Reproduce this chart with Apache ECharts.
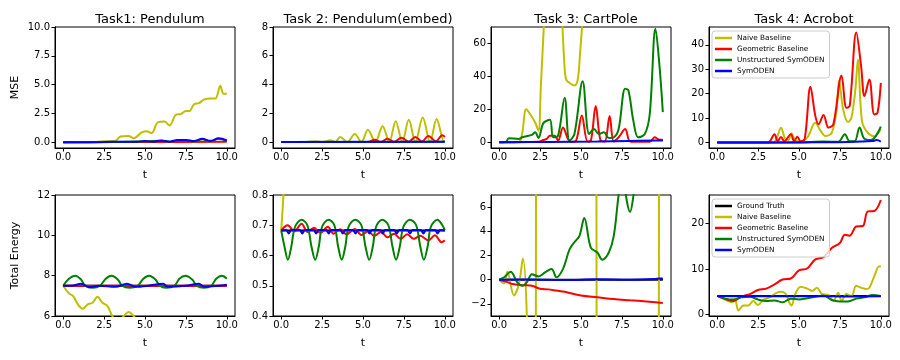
<!DOCTYPE html>
<html>
<head>
<meta charset="utf-8">
<script src="https://cdn.jsdelivr.net/npm/echarts@6/dist/echarts.min.js"></script>
<style>
  html, body { margin: 0; padding: 0; background: #fff; }
  #chartmain { width: 900px; height: 360px; }
</style>
</head>
<body>
<div id="chartmain"></div>
<script>
// ---- data ([t, value] pairs) ----
var titles = ['Task1: Pendulum', 'Task 2: Pendulum(embed)', 'Task 3: CartPole', 'Task 4: Acrobot'];
var rowNames = ['MSE', 'Total Energy'];
var xTicks = [0, 2.5, 5, 7.5, 10];
var yTicks = [
  [0, 2.5, 5, 7.5, 10], [0, 2, 4, 6, 8], [0, 20, 40, 60], [0, 10, 20, 30, 40],
  [6, 8, 10, 12], [0.4, 0.5, 0.6, 0.7, 0.8], [-2, 0, 2, 4, 6], [0, 10, 20]
];
var yRange = [
  [-0.5, 10], [-0.42, 8], [-3.5, 70], [-2.25, 47.3],
  [6, 12], [0.4, 0.8], [-3, 7], [-0.3, 26.2]
];

// Task1 MSE
var p1Naive = [[0,0],[1,0.02],[2,0.03],[2.5,0.08],[3.2,0.12],[3.5,0.5],[4.0,0.55],[4.3,0.35],[4.8,0.85],[5.1,0.95],[5.4,0.8],[5.8,1.75],[6.2,1.8],[6.5,1.45],[6.9,2.4],[7.2,2.45],[7.5,2.7],[7.7,2.7],[8.0,3.3],[8.3,3.4],[8.6,3.7],[9.0,3.8],[9.3,3.8],[9.6,4.9],[9.8,4.2],[10,4.2]];
var p1Geo = [[0,0],[5,0.02],[10,0.05]];
var p1Unstr = [[0,0],[3,0.02],[5,0.08],[6,0.12],[6.5,0.04],[7,0.15],[7.5,0.15],[8,0.06],[8.5,0.25],[9,0.06],[9.5,0.3],[10,0.12]];
var p1Sym = [[0,0],[2.5,0.02],[3.5,0.05],[4.5,0.05],[5,0.1],[5.5,0.05],[6,0.15],[6.5,0.05],[7,0.2],[7.5,0.2],[8,0.1],[8.5,0.3],[9,0.12],[9.5,0.35],[10,0.15]];

// Task2 MSE
var p2Naive = [[0,0],[1.5,0],[2.1,0.05],[2.5,0],[3.0,0.12],[3.3,0],[3.6,0.35],[4.05,0],[4.5,0.55],[4.9,0],[5.3,0.85],[5.75,0],[6.2,1.1],[6.6,0],[7.0,1.45],[7.4,0],[7.8,1.55],[8.2,0],[8.65,1.7],[9.1,0],[9.5,1.6],[9.95,0.05],[10,0.1]];
var p2Geo = [[0,0],[5.3,0],[5.7,0.16],[6.1,0],[6.5,0.23],[6.9,0.01],[7.35,0.3],[7.8,0.02],[8.2,0.35],[8.6,0.03],[9.0,0.42],[9.45,0.05],[9.85,0.47],[10,0.35]];
var p2Unstr = [[0,0],[10,0.01]];
var p2Sym = [[0,0],[10,0.02]];

// Task3 MSE
var p3Naive = [[0,0],[1.2,0.2],[1.4,5],[1.65,20],[1.9,17],[2.2,12],[2.4,7],[2.55,35],[2.75,75],[3.0,130],[3.5,150],[3.75,110],[3.85,75],[4.0,45],[4.1,38],[4.3,36],[4.6,34.5],[4.8,38],[4.95,55],[5.1,75],[5.5,130],[6,180],[8,200],[10,220]];
var p3Geo = [[0,0],[2.4,0.3],[2.6,1],[2.9,2],[3.1,4],[3.4,4],[3.6,1],[3.9,9],[4.2,2],[4.4,0.2],[4.7,1],[5.05,16.3],[5.4,0.5],[5.6,1],[5.9,22],[6.2,1],[6.45,0.5],[6.75,16],[7.0,0.5],[7.3,3],[7.7,8],[8.0,0.5],[8.5,0.3],[9.2,0.3],[9.5,3],[9.8,1.5],[10,1.5]];
var p3Unstr = [[0,0],[0.4,0.2],[0.6,2.4],[1.2,2],[1.4,3],[1.6,3.5],[2.0,4.5],[2.2,6],[2.4,2.6],[2.7,11.6],[3.1,13.6],[3.3,3],[3.6,4],[4.0,27],[4.3,1],[4.6,5],[5.1,37],[5.5,5],[5.8,8],[6.1,5],[6.4,6],[6.7,2.6],[7.0,3],[7.3,8],[7.7,32.5],[7.9,31.5],[8.2,13],[8.5,3],[8.9,5],[9.2,17],[9.55,69],[9.8,46],[10,18.3]];
var p3Sym = [[0,0],[3,0.2],[6,0.5],[8,0.8],[9.5,1],[10,1]];

// Task4 MSE
var p4Naive = [[0,0],[3.4,0],[3.65,2],[3.9,6],[4.15,1.5],[4.35,1],[4.55,3.8],[4.75,1],[5.0,0.5],[5.5,2],[6.0,8.1],[6.3,5],[6.6,2.7],[7.0,4],[7.3,13.6],[7.45,25.4],[7.7,13.5],[8.0,8.4],[8.2,10],[8.45,22],[8.6,33.9],[8.85,8.8],[9.2,4],[9.6,2.5],[10,5.5]];
var p4Geo = [[0,0],[3.1,0],[3.5,3.4],[3.7,0.5],[3.9,2.3],[4.1,0.5],[4.5,3.4],[4.7,0.5],[4.9,2.4],[5.1,0.5],[5.35,1.5],[5.7,22.8],[6.0,10.8],[6.2,7.5],[6.5,11.3],[6.8,6.1],[7.1,7.5],[7.6,27.4],[7.9,14.2],[8.1,15],[8.5,45],[8.8,31],[9.0,19],[9.3,25.8],[9.6,11.5],[9.8,12.2],[10,24.4]];
var p4Unstr = [[0,0],[5,0],[6.5,0.4],[7.4,0.3],[7.8,3.4],[8.1,0.5],[8.4,0.5],[8.7,6.1],[9.0,1.5],[9.4,1],[10,6.5]];
var p4Sym = [[0,0],[6,0.1],[8,0.2],[9.5,0.6],[9.75,1],[10,0.4]];

// Task1 energy
var p5Truth = [[0,7.5],[10,7.5]];
var p5Naive = [[0,7.5],[0.35,7.12],[0.6,7.0],[0.9,6.58],[1.2,6.36],[1.5,6.58],[1.8,6.66],[2.1,6.95],[2.4,6.66],[2.7,6.5],[3.0,6.0],[3.3,5.7],[3.7,6.0],[4.0,6.2],[4.3,6.0],[4.8,5.5],[6,5.0],[8,4.8],[10,4.5]];
var p5Geo = [[0,7.5],[10,7.5]];
var p5Unstr = [[0,7.5],[0.35,7.85],[0.73,8.0],[1.1,7.8],[1.35,7.5],[1.8,7.4],[2.25,7.5],[2.6,7.85],[2.96,8.0],[3.35,7.8],[3.6,7.5],[4.05,7.4],[4.55,7.5],[4.9,7.85],[5.25,8.0],[5.65,7.8],[5.9,7.5],[6.3,7.4],[6.8,7.5],[7.1,7.85],[7.47,8.0],[7.9,7.8],[8.15,7.5],[8.6,7.4],[9.05,7.5],[9.35,7.85],[9.7,8.0],[10,7.85]];
var p5Sym = [[0,7.5],[0.5,7.5],[1.1,7.6],[1.6,7.42],[2.2,7.5],[3.2,7.45],[3.9,7.6],[4.4,7.45],[5.2,7.5],[6.1,7.6],[6.4,7.45],[7.5,7.5],[8.3,7.6],[8.6,7.45],[9.5,7.5],[10,7.55]];

// Task2 energy
var p6Truth = [[0,0.683],[10,0.683]];
var p6Naive = [[0,0.683],[0.14,0.8],[0.3,1.0],[1,1.5],[10,3]];
var p6Geo = [[0,0.683],[0.4,0.7],[0.8,0.68],[1.25,0.705],[1.6,0.678],[2.0,0.692],[2.4,0.675],[2.85,0.695],[3.2,0.672],[3.6,0.687],[4.0,0.67],[4.5,0.688],[4.9,0.668],[5.3,0.68],[5.7,0.665],[6.1,0.678],[6.5,0.66],[6.9,0.672],[7.3,0.655],[7.7,0.67],[8.1,0.655],[8.5,0.665],[9.0,0.65],[9.4,0.667],[9.8,0.644],[10,0.65]];
var p6Unstr = [[0,0.683],[0.2,0.63],[0.41,0.586],[0.62,0.63],[0.85,0.695],[1.25,0.718],[1.6,0.7],[1.85,0.63],[2.08,0.586],[2.3,0.63],[2.5,0.695],[2.9,0.718],[3.25,0.7],[3.48,0.63],[3.7,0.586],[3.92,0.63],[4.12,0.695],[4.52,0.718],[4.9,0.7],[5.15,0.63],[5.38,0.586],[5.6,0.63],[5.8,0.695],[6.17,0.718],[6.55,0.7],[6.8,0.63],[7.02,0.586],[7.25,0.63],[7.47,0.695],[7.87,0.718],[8.25,0.7],[8.5,0.63],[8.72,0.586],[8.95,0.63],[9.15,0.695],[9.55,0.718],[9.85,0.7],[10,0.683]];
var p6Sym = [[0,0.683],[0.3,0.684],[0.46,0.673],[0.62,0.684],[1.13,0.684],[1.29,0.673],[1.45,0.684],[1.98,0.684],[2.14,0.673],[2.3,0.684],[2.74,0.684],[2.9,0.673],[3.06,0.684],[3.61,0.684],[3.77,0.673],[3.93,0.684],[4.38,0.684],[4.54,0.673],[4.7,0.684],[5.24,0.684],[5.4,0.673],[5.56,0.684],[6.04,0.684],[6.2,0.673],[6.36,0.684],[6.9,0.684],[7.06,0.673],[7.22,0.684],[7.71,0.684],[7.87,0.673],[8.03,0.684],[8.53,0.684],[8.69,0.673],[8.85,0.684],[9.4,0.684],[9.56,0.673],[9.72,0.684],[10,0.683]];

// Task3 energy
var p7Truth = [[0,0],[10,0]];
var p7Naive = [[0,0],[0.3,-0.3],[0.5,0.65],[0.9,-1.3],[1.2,-0.4],[1.45,1.75],[1.7,-3.5],[1.9,-20],[2.1,-60],[2.2,-50],[2.3,60],[2.5,120],[4,150],[5.9,60],[6.0,-60],[7,-150],[9.7,-60],[9.8,60],[10,120]];
var p7Geo = [[0,0],[0.5,-0.2],[0.8,-0.35],[1.5,-0.45],[2.0,-0.5],[2.5,-0.75],[3.0,-0.8],[3.5,-0.9],[4.0,-1.0],[5,-1.3],[6,-1.45],[7,-1.6],[8,-1.7],[9,-1.8],[10,-1.92]];
var p7Unstr = [[0,0],[0.3,0.2],[0.7,0.65],[1.1,-0.2],[1.4,-0.5],[1.7,-0.2],[2.0,0.45],[2.4,0.27],[2.8,0.6],[3.2,0.88],[3.5,0.2],[3.9,0.9],[4.3,2.5],[4.6,3.1],[4.9,3.6],[5.2,5.1],[5.6,2.65],[6.0,2.25],[6.3,1.65],[6.7,2.25],[7.0,3.6],[7.3,7.0],[7.55,9],[7.8,6.5],[8.0,5.6],[8.2,6.9],[8.4,9],[9,15],[10,20]];
var p7Sym = [[0,0],[2,0.02],[4,-0.03],[6,0.03],[8,0],[9.5,0.05],[9.8,0.1],[10,0.1]];

// Task4 energy
var p8Truth = [[0,4.1],[10,4.1]];
var p8Naive = [[0,4.1],[0.5,3.3],[0.9,2.7],[1.1,3.0],[1.3,0.9],[1.6,2.0],[1.9,2.0],[2.2,3.0],[2.5,2.1],[2.8,3.2],[3.2,3.8],[3.6,4.7],[3.9,5.0],[4.2,4.5],[4.4,2.7],[4.55,2.0],[4.75,4.3],[5.1,6.1],[5.5,5.7],[5.8,5.2],[6.1,5.9],[6.4,4.5],[6.8,4.3],[7.1,3.0],[7.4,4.8],[7.6,3.0],[7.9,4.5],[8.2,4.1],[8.5,6.3],[8.8,5.9],[9.1,5.6],[9.3,5.9],[9.6,8.4],[9.9,10.6],[10,10.5]];
var p8Geo = [[0,4.1],[0.5,3.4],[1.0,3.0],[1.5,4.0],[2.0,4.5],[2.5,5.4],[3.0,5.7],[3.5,6.6],[4.0,7.7],[4.5,7.9],[5.0,9.7],[5.5,10.1],[6.0,12.1],[6.5,12.6],[7.0,14.6],[7.5,15.7],[7.8,17.5],[8.1,17.3],[8.5,19.3],[8.9,19.4],[9.2,22.6],[9.6,22.7],[10,25.1]];
var p8Unstr = [[0,4.1],[0.5,3.5],[1,3.3],[1.5,3.8],[2.0,3.9],[2.5,3.3],[3.0,3.0],[3.5,3.1],[4.0,2.7],[4.5,3.5],[5.0,3.3],[5.5,3.6],[6.0,3.9],[6.5,4.2],[7.0,3.2],[7.5,2.9],[8.0,2.9],[8.5,3.5],[9.0,3.8],[9.5,4.3],[10,4.1]];
var p8Sym = [[0,4.1],[3,4.0],[6,4.05],[8,3.95],[10,4.0]];

var panels = [
  {naive: p1Naive, geo: p1Geo, unstr: p1Unstr, sym: p1Sym},
  {naive: p2Naive, geo: p2Geo, unstr: p2Unstr, sym: p2Sym},
  {naive: p3Naive, geo: p3Geo, unstr: p3Unstr, sym: p3Sym},
  {naive: p4Naive, geo: p4Geo, unstr: p4Unstr, sym: p4Sym},
  {truth: p5Truth, naive: p5Naive, geo: p5Geo, unstr: p5Unstr, sym: p5Sym},
  {truth: p6Truth, naive: p6Naive, geo: p6Geo, unstr: p6Unstr, sym: p6Sym},
  {truth: p7Truth, naive: p7Naive, geo: p7Geo, unstr: p7Unstr, sym: p7Sym},
  {truth: p8Truth, naive: p8Naive, geo: p8Geo, unstr: p8Unstr, sym: p8Sym}
];

var seriesDefs = [
  {key: 'truth', name: 'Ground Truth', color: '#000000'},
  {key: 'naive', name: 'Naive Baseline', color: '#bfbf00'},
  {key: 'geo', name: 'Geometric Baseline', color: '#ff0000'},
  {key: 'unstr', name: 'Unstructured SymODEN', color: '#008000'},
  {key: 'sym', name: 'SymODEN', color: '#0000ff'}
];

// ---- layout ----
var FONT = 'DejaVu Sans';
var colLeft = [55, 273, 491, 709];
var rowTop = [27, 195];
var W = 180, H = 121;

function fmt(i) {
  return function (v) {
    var s;
    if (i === 0 || i === 5) s = v.toFixed(1);
    else s = String(v);
    return s.replace('-', '\u2212');
  };
}

var grids = [], xAxes = [], yAxes = [], series = [], titleList = [];
for (var i = 0; i < 8; i++) {
  var r = Math.floor(i / 4), c = i % 4;
  grids.push({left: colLeft[c], top: rowTop[r], width: W, height: H, show: true,
    borderColor: '#000', borderWidth: 1, backgroundColor: 'transparent'});
  xAxes.push({
    gridIndex: i, type: 'value', min: -0.5, max: 10.5,
    name: 't', nameLocation: 'middle', nameGap: 22,
    nameTextStyle: {fontFamily: FONT, fontSize: 11, color: '#000'},
    axisLine: {onZero: false, lineStyle: {color: '#000', width: 1}},
    axisTick: {show: true, length: 3.5, customValues: xTicks, lineStyle: {color: '#000'}},
    axisLabel: {customValues: xTicks, margin: 4, fontFamily: FONT, fontSize: 10, color: '#000',
      formatter: function (v) { return v.toFixed(1); }},
    splitLine: {show: false}
  });
  yAxes.push({
    gridIndex: i, type: 'value', min: yRange[i][0], max: yRange[i][1],
    name: c === 0 ? rowNames[r] : '', nameLocation: 'middle', nameGap: 34, nameRotate: 90,
    nameTextStyle: {fontFamily: FONT, fontSize: 11, color: '#000'},
    axisLine: {onZero: false, lineStyle: {color: '#000', width: 1}},
    axisTick: {show: true, length: 3.5, customValues: yTicks[i], lineStyle: {color: '#000'}},
    axisLabel: {customValues: yTicks[i], margin: 5, fontFamily: FONT, fontSize: 10, color: '#000',
      formatter: fmt(i)},
    splitLine: {show: false}
  });
  seriesDefs.forEach(function (d) {
    var pts = panels[i][d.key];
    if (!pts) return;
    series.push({
      name: d.name, type: 'line', xAxisIndex: i, yAxisIndex: i,
      data: pts, smooth: 0.35, showSymbol: false, symbol: 'none', clip: true,
      lineStyle: {color: d.color, width: 2}, itemStyle: {color: d.color},
      animation: false
    });
  });
  if (r === 0) {
    titleList.push({text: titles[c], left: colLeft[c] + W / 2, top: 8, textAlign: 'center',
      textStyle: {fontFamily: FONT, fontSize: 13, fontWeight: 'normal', color: '#000'}});
  }
}

function legendAt(top, names) {
  return {
    data: names, orient: 'vertical', left: 712, top: top,
    icon: 'rect', itemWidth: 17, itemHeight: 2.5, itemGap: 3,
    backgroundColor: 'rgba(255,255,255,0.8)', borderColor: '#ccc', borderWidth: 1, borderRadius: 3,
    padding: [3, 5, 3, 3],
    textStyle: {fontFamily: FONT, fontSize: 7.3, color: '#000', lineHeight: 8}
  };
}

var myChart = echarts.init(document.getElementById('chartmain'), null, {renderer: 'canvas'});
myChart.setOption({
  backgroundColor: '#fff',
  animation: false,
  title: titleList,
  grid: grids,
  xAxis: xAxes,
  yAxis: yAxes,
  legend: [
    legendAt(31, ['Naive Baseline', 'Geometric Baseline', 'Unstructured SymODEN', 'SymODEN']),
    legendAt(199, ['Ground Truth', 'Naive Baseline', 'Geometric Baseline', 'Unstructured SymODEN', 'SymODEN'])
  ],
  series: series
});
</script>
</body>
</html>
